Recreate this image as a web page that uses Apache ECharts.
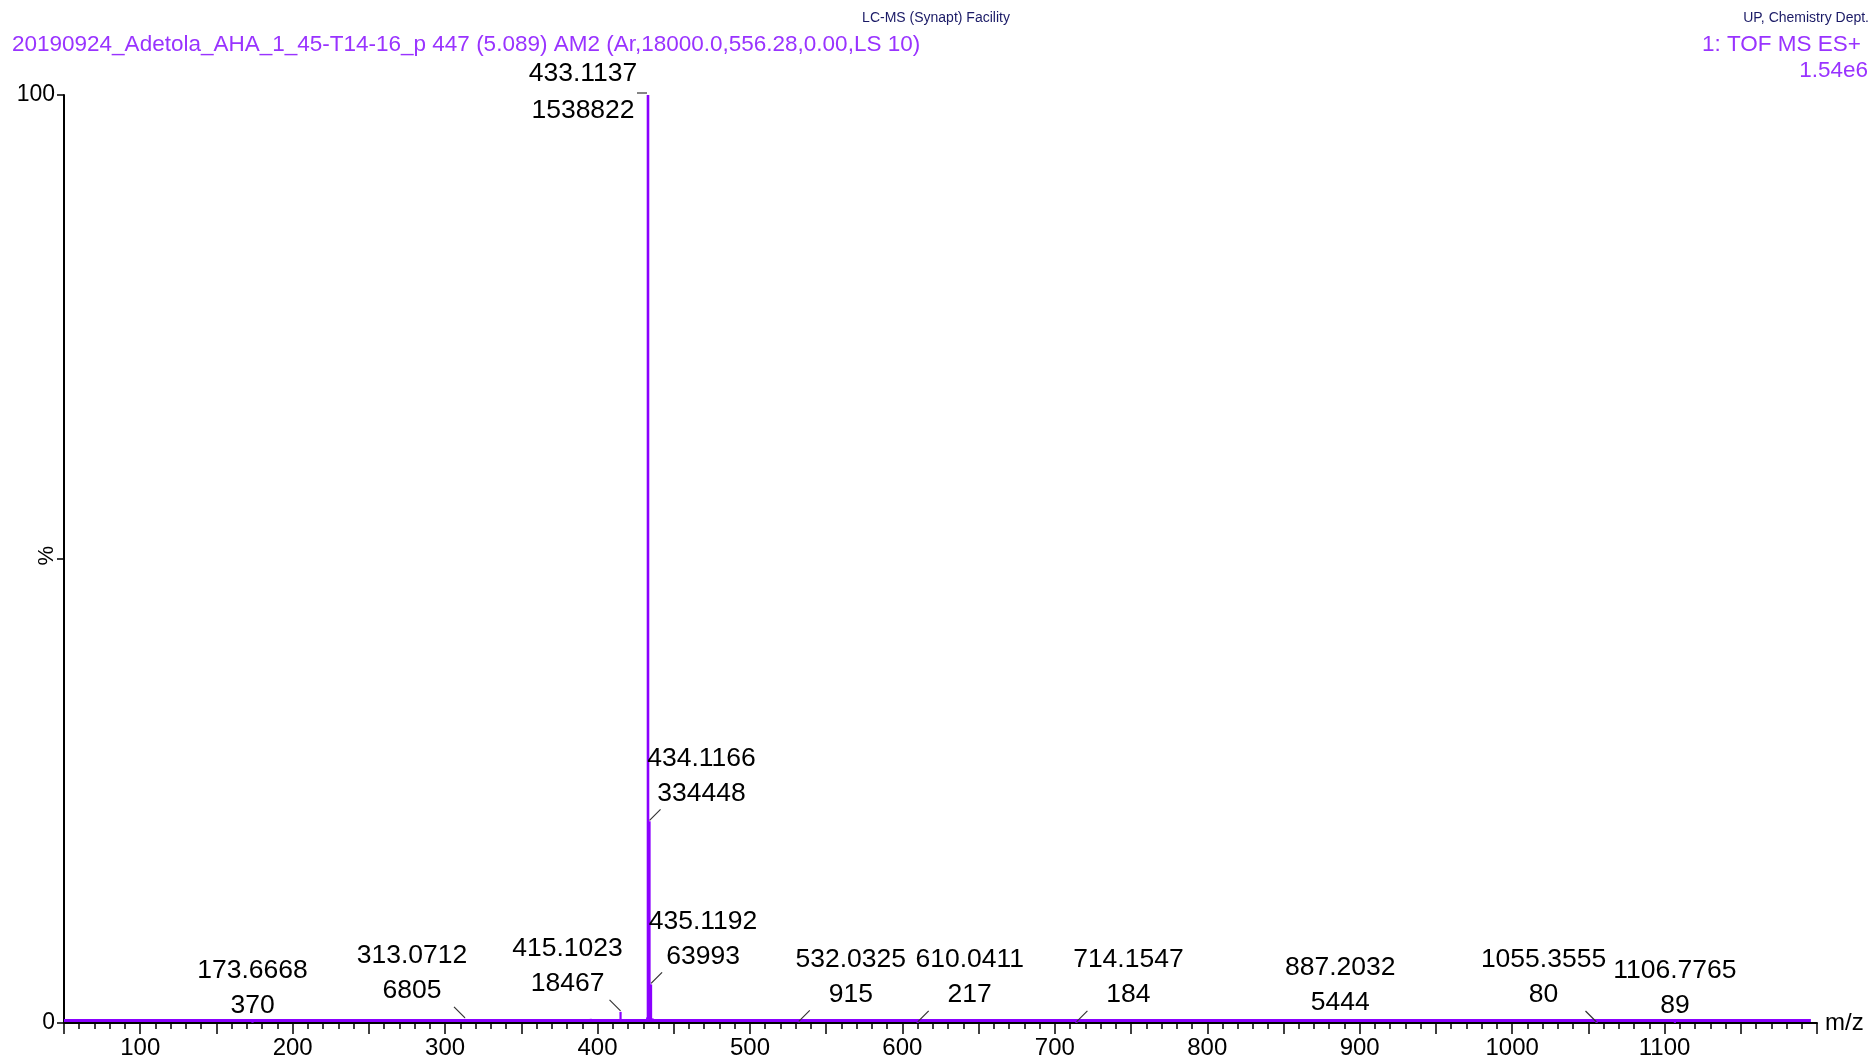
<!DOCTYPE html>
<html>
<head>
<meta charset="utf-8">
<script src="https://cdn.jsdelivr.net/npm/echarts@6/dist/echarts.min.js"></script>
<style>
html, body { margin: 0; padding: 0; background: #fff; }
#chart { width: 1872px; height: 1061px; }
</style>
</head>
<body>
<div id="chart"></div>
<script>
// base peak intensity = 100 %
const basePeakIntensity = 1538822;

// labelled peaks (m/z text, counts, where the label sits)
const labelMz = ['173.6668', '313.0712', '415.1023', '433.1137', '434.1166', '435.1192',
  '532.0325', '610.0411', '714.1547', '887.2032', '1055.3555', '1106.7765'];
const labelIntensity = [370, 6805, 18467, 1538822, 334448, 63993, 915, 217, 184, 5444, 80, 89];
const labelPlace = ['above', 'left', 'left', 'top', 'right', 'right',
  'right', 'right', 'right', 'above', 'left', 'above'];

// small unlabelled peaks
const minorPeakMz = [395.6, 416.1, 432.6, 433.6, 436.1, 454.2, 889.5, 916.8];
const minorPeakPct = [0.45, 0.35, 0.6, 3.0, 0.5, 0.35, 0.3, 0.35];

// noise floor along the baseline
const noiseMz = [50, 1196];
const noisePct = [0.28, 0.28];

// x axis range / ticks
const xMin = 50, xMax = 1200, xStep = 50;

const purple = '#8a00ff';

// label offsets in px from the peak top
const placeLayout = {
  top:   { dx: -65, dy1: -21, dy2: 16,  leader: [[-11, -2], [-1, -2]] },
  right: { dx: 52,  dy1: -63, dy2: -28, leader: [[0, -1], [11, -12]] },
  left:  { dx: -53, dy1: -63, dy2: -28, leader: [[0, -1], [-11, -12]] },
  above: { dx: 0,   dy1: -52, dy2: -17, leader: null }
};

const chart = echarts.init(document.getElementById('chart'));

const peakData = labelMz.map(function (m, i) {
  return [parseFloat(m), labelIntensity[i] / basePeakIntensity * 100];
}).concat(minorPeakMz.map(function (m, i) { return [m, minorPeakPct[i]]; }));

const labelData = labelMz.map(function (m, i) {
  return [parseFloat(m), labelIntensity[i] / basePeakIntensity * 100, i];
});

const txtFont = 'Liberation Sans';

chart.setOption({
  animation: false,
  title: [
    {
      text: '20190924_Adetola_AHA_1_45-T14-16_p 447 (5.089) AM2 (Ar,18000.0,556.28,0.00,LS 10)',
      left: 12, top: 33, padding: 0,
      textStyle: { color: '#9933ff', fontSize: 22.5, fontWeight: 'normal', fontFamily: txtFont }
    },
    {
      text: 'LC-MS (Synapt) Facility',
      left: 'center', top: 11, padding: 0,
      textStyle: { color: '#1a1a66', fontSize: 14, fontWeight: 'normal', fontFamily: txtFont }
    },
    {
      text: 'UP, Chemistry Dept.',
      right: 3, top: 11, padding: 0,
      textStyle: { color: '#1a1a66', fontSize: 14, fontWeight: 'normal', fontFamily: txtFont }
    },
    {
      text: '1: TOF MS ES+',
      right: 11, top: 33, padding: 0,
      textStyle: { color: '#9933ff', fontSize: 22.5, fontWeight: 'normal', fontFamily: txtFont }
    },
    {
      text: '1.54e6',
      right: 4, top: 59, padding: 0,
      textStyle: { color: '#9933ff', fontSize: 22.5, fontWeight: 'normal', fontFamily: txtFont }
    }
  ],
  // y axis title "%" placed beside the mid tick
  graphic: [
    {
      type: 'text',
      left: 36, top: 546,
      rotation: Math.PI / 2,
      style: { text: '%', fontSize: 22, fontFamily: txtFont, fill: '#000' }
    }
  ],
  grid: { left: 64, right: 55, top: 95, bottom: 38, containLabel: false, outerBoundsMode: 'none' },
  xAxis: {
    type: 'value',
    min: xMin, max: xMax, interval: xStep,
    name: 'm/z', nameLocation: 'end', nameGap: 8,
    nameTextStyle: { color: '#000', fontSize: 24, fontFamily: txtFont, verticalAlign: 'middle' },
    axisLine: { lineStyle: { color: '#000', width: 2 } },
    axisTick: { length: 11, lineStyle: { color: '#000', width: 1.5 } },
    minorTick: { show: true, splitNumber: 5, length: 6, lineStyle: { color: '#000', width: 1.5 } },
    splitLine: { show: false },
    axisLabel: {
      color: '#000', fontSize: 24, fontFamily: txtFont, margin: 13,
      formatter: function (v) { return (v % 100 === 0 && v < xMax) ? String(v) : ''; }
    }
  },
  yAxis: {
    type: 'value',
    min: 0, max: 100, interval: 50,
    axisLine: { show: true, lineStyle: { color: '#000', width: 2 } },
    axisTick: { show: true, length: 7, lineStyle: { color: '#000', width: 1.5 } },
    splitLine: { show: false },
    axisLabel: {
      color: '#000', fontSize: 23, fontFamily: txtFont, margin: 9,
      formatter: function (v) { return v === 50 ? '' : String(v); }
    }
  },
  series: [
    {
      type: 'line',
      data: noiseMz.map(function (m, i) { return [m, noisePct[i]]; }),
      symbol: 'none',
      lineStyle: { color: purple, width: 3 },
      silent: true,
      z: 2
    },
    {
      type: 'custom',
      data: peakData,
      silent: true,
      z: 3,
      renderItem: function (params, api) {
        const top = api.coord([api.value(0), api.value(1)]);
        const base = api.coord([api.value(0), 0]);
        return {
          type: 'line',
          shape: { x1: top[0], y1: top[1], x2: base[0], y2: base[1] - 1 },
          style: { stroke: purple, lineWidth: api.value(1) > 50 ? 2.6 : 2.2 }
        };
      }
    },
    {
      type: 'custom',
      data: labelData,
      silent: true,
      clip: false,
      z: 4,
      renderItem: function (params, api) {
        const p = api.coord([api.value(0), api.value(1)]);
        const i = api.value(2);
        const L = placeLayout[labelPlace[i]];
        const children = [
          {
            type: 'text',
            style: {
              text: labelMz[i], x: p[0] + L.dx, y: p[1] + L.dy1,
              align: 'center', verticalAlign: 'middle',
              fontSize: 26.5, fontFamily: txtFont, fill: '#000'
            }
          },
          {
            type: 'text',
            style: {
              text: String(labelIntensity[i]), x: p[0] + L.dx, y: p[1] + L.dy2,
              align: 'center', verticalAlign: 'middle',
              fontSize: 26.5, fontFamily: txtFont, fill: '#000'
            }
          }
        ];
        if (L.leader) {
          children.push({
            type: 'polyline',
            shape: { points: L.leader.map(function (d) { return [p[0] + d[0], p[1] + d[1]]; }) },
            style: { stroke: '#333', lineWidth: 1.2, fill: null }
          });
        }
        return { type: 'group', children: children };
      }
    }
  ]
});
</script>
</body>
</html>
